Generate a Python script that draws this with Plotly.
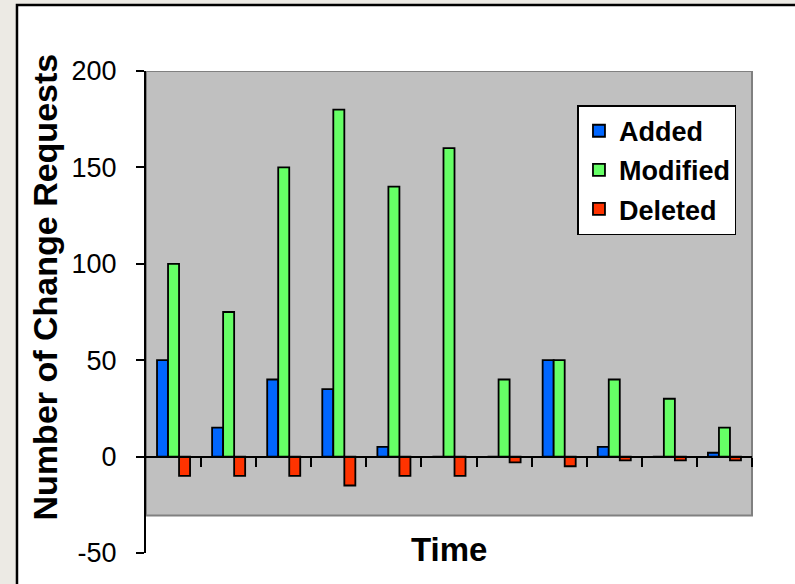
import plotly.graph_objects as go

# Change requests per period
periods = list(range(11))
added = [50, 15, 40, 35, 5, 0, 0, 50, 5, 0, 2]
modified = [100, 75, 150, 180, 140, 160, 40, 50, 40, 30, 15]
deleted = [-10, -10, -10, -15, -10, -10, -3, -5, -2, -2, -2]

y_ticks = [-50, 0, 50, 100, 150, 200]
y_tick_labels = ["-50", "0", "50", "100", "150", "200"]
grid_values = [50, 100, 150]
category_edges = [p + 0.5 for p in periods]

FONT = "Arial, Liberation Sans, sans-serif"
BLUE = "#0066FF"
GREEN = "#66FF66"
RED = "#FF3300"

fig = go.Figure()
for name, vals, color in [("Added", added, BLUE),
                          ("Modified", modified, GREEN),
                          ("Deleted", deleted, RED)]:
    fig.add_trace(go.Bar(
        x=periods, y=vals, name=name, legendgroup=name,
        marker=dict(color=color, line=dict(color="black", width=1.8)),
    ))

fig.update_layout(
    width=795, height=584,
    margin=dict(l=146, r=43, t=71, b=31),
    paper_bgcolor="#ECEAE4",
    plot_bgcolor="rgba(0,0,0,0)",
    barmode="group", bargap=0.4, bargroupgap=0,
    font=dict(family=FONT, color="black"),
    showlegend=True,
    legend=dict(
        x=0.712, y=0.929, xanchor="left", yanchor="top",
        bgcolor="white", bordercolor="black", borderwidth=1.5,
        font=dict(size=27, weight="bold", family=FONT),
        tracegroupgap=1,
    ),
    xaxis=dict(
        range=[-0.5, 10.5], anchor="free", position=0.2,
        showline=True, linecolor="black", linewidth=2,
        tickmode="array", tickvals=category_edges,
        ticks="outside", ticklen=9, tickwidth=2, tickcolor="black",
        showticklabels=False, showgrid=False, zeroline=False,
    ),
    yaxis=dict(
        range=[-50, 200], tickmode="array",
        tickvals=y_ticks, ticktext=y_tick_labels,
        showline=True, linecolor="black", linewidth=2,
        ticks="outside", ticklen=8, tickwidth=2, tickcolor="black",
        ticklabelstandoff=14,
        tickfont=dict(size=27, family=FONT),
        showgrid=False, zeroline=False,
    ),
    yaxis2=dict(
        range=[-50, 200], overlaying="y", anchor="x", side="left",
        tickmode="array", tickvals=grid_values,
        showgrid=True, gridcolor="black", gridwidth=1.8,
        showticklabels=False, ticks="", showline=False, zeroline=False,
    ),
)

# White chart panel with a black frame
fig.add_shape(type="rect", xref="paper", yref="paper",
              x0=-0.2129, x1=1.3, y0=-0.3, y1=1.137,
              fillcolor="white", line=dict(color="black", width=2.5),
              layer="below")
# Gray plot area
fig.add_shape(type="rect", xref="paper", yref="y",
              x0=0, x1=1, y0=-30.5, y1=200,
              fillcolor="#C0C0C0", line=dict(color="#808080", width=2),
              layer="below")

fig.add_annotation(text="<b>Number of Change Requests</b>", textangle=-90,
                   xref="paper", yref="paper", x=-0.1667, y=0.553,
                   xanchor="center", yanchor="middle", showarrow=False,
                   font=dict(size=34, family=FONT))
fig.add_annotation(text="<b>Time</b>",
                   xref="paper", yref="paper", x=0.5, y=0.008,
                   xanchor="center", yanchor="middle", showarrow=False,
                   font=dict(size=33, family=FONT))

fig.write_html("out.html")
